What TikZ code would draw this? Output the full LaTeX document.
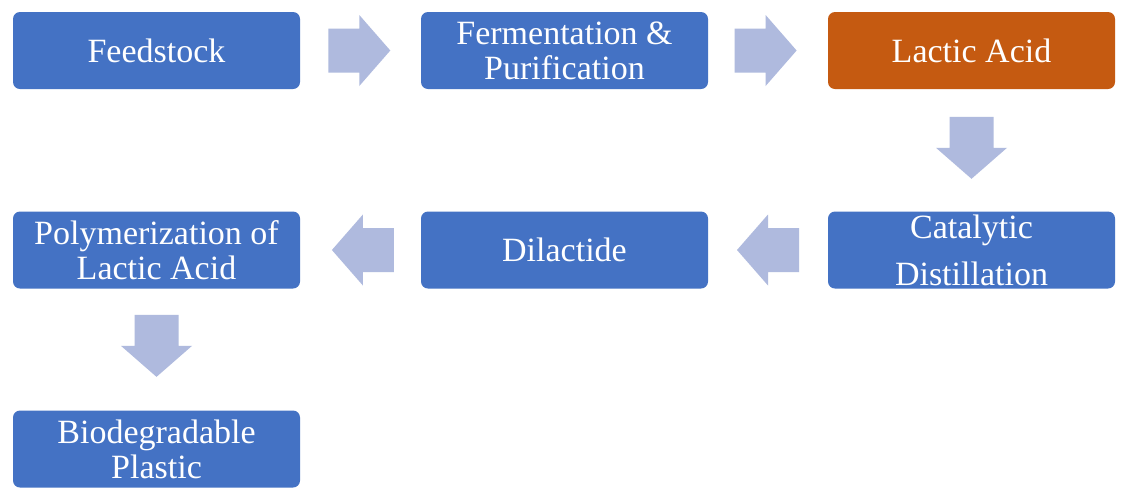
\documentclass[tikz,border=0pt]{standalone}
\usepackage{fontspec}
\setmainfont{Liberation Serif}
\usetikzlibrary{calc}
\definecolor{boxblue}{HTML}{4472C4}
\definecolor{boxorange}{HTML}{C55A11}
\definecolor{arrowblue}{HTML}{AFBADE}
\begin{document}
\begin{tikzpicture}[x=1pt,y=-1pt,
 stepbox/.style={rounded corners=7pt, fill=boxblue, text=white, minimum width=287pt, minimum height=77pt, inner sep=0pt, align=center, font=\fontsize{34}{35}\selectfont},
 blockarrow/.pic={\fill[arrowblue] (-31,-22) -- (0,-22) -- (0,-35.5) -- (31,0) -- (0,35.5) -- (0,22) -- (-31,22) -- cycle;}]
\useasboundingbox (0,0) rectangle (1127,499);
\fill[white] (0,0) rectangle (1127,499);
\node[stepbox] (feed) at (156.5,50.5) {Feedstock};
\node[stepbox] (ferm) at (564.5,50.5) {Fermentation \&\\Purification};
\node[stepbox, fill=boxorange] (lactic) at (971.5,50.5) {Lactic Acid};
\node[stepbox, font=\fontsize{34}{47}\selectfont] (cat) at (971.5,250) {Catalytic\\Distillation};
\node[stepbox] (dil) at (564.5,250) {Dilactide};
\node[stepbox] (poly) at (156.5,250) {Polymerization of\\Lactic Acid};
\node[stepbox] (bio) at (156.5,449) {Biodegradable\\Plastic};
\coordinate (a1) at ($(feed.east)!0.49!(ferm.west)$);
\coordinate (a2) at ($(ferm.east)!0.48!(lactic.west)$);
\coordinate (a3) at ($(lactic.south)!0.48!(cat.north)$);
\coordinate (a4) at ($(cat.west)!0.5!(dil.east)$);
\coordinate (a5) at ($(dil.west)!0.48!(poly.east)$);
\coordinate (a6) at ($(poly.south)!0.47!(bio.north)$);
\pic at (a1) {blockarrow};
\pic at (a2) {blockarrow};
\pic[rotate=-90] at (a3) {blockarrow};
\pic[rotate=180] at (a4) {blockarrow};
\pic[rotate=180] at (a5) {blockarrow};
\pic[rotate=-90] at (a6) {blockarrow};
\end{tikzpicture}
\end{document}
